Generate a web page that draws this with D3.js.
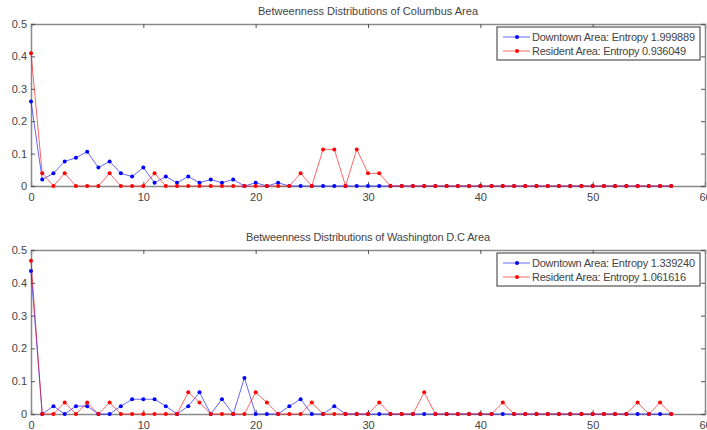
<!DOCTYPE html>
<html>
<head>
<meta charset="utf-8">
<script src="https://cdn.jsdelivr.net/npm/d3@7"></script>
<style>
  body { margin: 0; background: #fff; }
  text { font-family: Arial, "Liberation Sans", sans-serif; fill: #444; }
</style>
</head>
<body>
<svg id="mainsvg" width="707" height="430"></svg>
<script>
// Columbus
var colTitle = "Betweenness Distributions of Columbus Area";
var colDowntown = [0.261, 0.02, 0.039, 0.076, 0.087, 0.106, 0.057, 0.076, 0.039, 0.029,
  0.057, 0.01, 0.029, 0.01, 0.029, 0.01, 0.02, 0.01, 0.02, 0,
  0.01, 0, 0.01, 0, 0, 0, 0, 0, 0, 0,
  0, 0, 0, 0, 0, 0, 0, 0, 0, 0,
  0, 0, 0, 0, 0, 0, 0, 0, 0, 0,
  0, 0, 0, 0, 0, 0, 0, 0];
var colResident = [0.41, 0.039, 0, 0.039, 0, 0, 0, 0.039, 0, 0,
  0, 0.039, 0, 0, 0, 0, 0, 0, 0, 0,
  0, 0, 0, 0, 0.039, 0, 0.113, 0.113, 0, 0.113,
  0.039, 0.039, 0, 0, 0, 0, 0, 0, 0, 0,
  0, 0, 0, 0, 0, 0, 0, 0, 0, 0,
  0, 0, 0, 0, 0, 0, 0, 0];
var colLegend = ["Downtown Area: Entropy 1.999889", "Resident Area: Entropy 0.936049"];

// Washington D.C
var dcTitle = "Betweenness Distributions of Washington D.C Area";
var dcDowntown = [0.436, 0, 0.024, 0, 0.024, 0.024, 0, 0, 0.024, 0.045,
  0.045, 0.045, 0.024, 0, 0.024, 0.066, 0, 0.045, 0, 0.11,
  0, 0, 0, 0.024, 0.045, 0, 0, 0.024, 0, 0,
  0, 0, 0, 0, 0, 0, 0, 0, 0, 0,
  0, 0, 0, 0, 0, 0, 0, 0, 0, 0,
  0, 0, 0, 0, 0, 0, 0, 0];
var dcResident = [0.467, 0, 0, 0.035, 0, 0.035, 0, 0.035, 0, 0,
  0, 0, 0, 0, 0.066, 0.035, 0, 0, 0, 0,
  0.066, 0.035, 0, 0, 0, 0.035, 0, 0, 0, 0,
  0, 0.035, 0, 0, 0, 0.066, 0, 0, 0, 0,
  0, 0, 0.035, 0, 0, 0, 0, 0, 0, 0,
  0, 0, 0, 0, 0.035, 0, 0.035, 0];
var dcLegend = ["Downtown Area: Entropy 1.339240", "Resident Area: Entropy 1.061616"];

var xTicks = [0, 10, 20, 30, 40, 50, 60];
var yTicks = [0, 0.1, 0.2, 0.3, 0.4, 0.5];
var colors = ["#0000ff", "#ff0000"];

var svg = d3.select("#mainsvg");

function drawPanel(top, bottom, title, series, labels) {
  var x = d3.scaleLinear().domain([0, 60]).range([31, 705]);
  var y = d3.scaleLinear().domain([0, 0.5]).range([bottom, top]);
  var g = svg.append("g");

  g.append("text")
    .attr("x", 368).attr("y", top - 9)
    .attr("text-anchor", "middle")
    .style("font-size", "11px")
    .attr("textLength", title.length > 45 ? 244 : 220)
    .text(title);

  // inward ticks, matlab style box
  var xb = g.append("g").attr("transform", "translate(0," + bottom + ")")
    .call(d3.axisBottom(x).tickValues(xTicks).tickSize(-4).tickPadding(7).tickFormat(d3.format("d")));
  var xt = g.append("g").attr("transform", "translate(0," + top + ")")
    .call(d3.axisTop(x).tickValues(xTicks).tickSize(-4).tickFormat(""));
  var yl = g.append("g").attr("transform", "translate(31,0)")
    .call(d3.axisLeft(y).tickValues(yTicks).tickSize(-4).tickPadding(4).tickFormat(function (d) { return d === 0 ? "0" : d3.format(".1f")(d); }));
  var yr = g.append("g").attr("transform", "translate(705,0)")
    .call(d3.axisRight(y).tickValues(yTicks).tickSize(-4).tickFormat(""));
  [xb, xt, yl, yr].forEach(function (a) {
    a.select(".domain").attr("stroke", "#8a8a8a").attr("stroke-width", 1.5);
    a.selectAll(".tick line").attr("stroke", "#555");
    a.selectAll("text").style("font-size", "11px").attr("fill", "#444").style("font-family", "Arial, 'Liberation Sans', sans-serif");
  });

  var line = d3.line()
    .x(function (d, i) { return x(i); })
    .y(function (d) { return y(d); });

  series.forEach(function (s, k) {
    g.append("path")
      .datum(s)
      .attr("fill", "none")
      .attr("stroke", colors[k])
      .attr("stroke-opacity", 0.6)
      .attr("stroke-width", 1)
      .attr("d", line);
    g.append("g").selectAll("circle")
      .data(s)
      .enter()
      .append("circle")
      .attr("cx", function (d, i) { return x(i); })
      .attr("cy", function (d) { return y(d); })
      .attr("r", 2)
      .attr("fill", colors[k]);
  });

  // legend
  var lg = g.append("g").attr("transform", "translate(497," + (top + 3) + ")");
  lg.append("rect")
    .attr("width", 203).attr("height", 33)
    .attr("fill", "#fff").attr("stroke", "#333").attr("stroke-width", 1);
  labels.forEach(function (t, k) {
    var yy = 10 + k * 14;
    lg.append("line")
      .attr("x1", 6).attr("x2", 33).attr("y1", yy).attr("y2", yy)
      .attr("stroke", colors[k]).attr("stroke-opacity", 0.6);
    lg.append("circle").attr("cx", 20).attr("cy", yy).attr("r", 2).attr("fill", colors[k]);
    lg.append("text")
      .attr("x", 35).attr("y", yy + 4)
      .style("font-size", "11px")
      .attr("textLength", k === 0 ? 163 : 154)
      .text(t);
  });
}

drawPanel(24, 186, colTitle, [colDowntown, colResident], colLegend);
drawPanel(250, 414, dcTitle, [dcDowntown, dcResident], dcLegend);
</script>
</body>
</html>
